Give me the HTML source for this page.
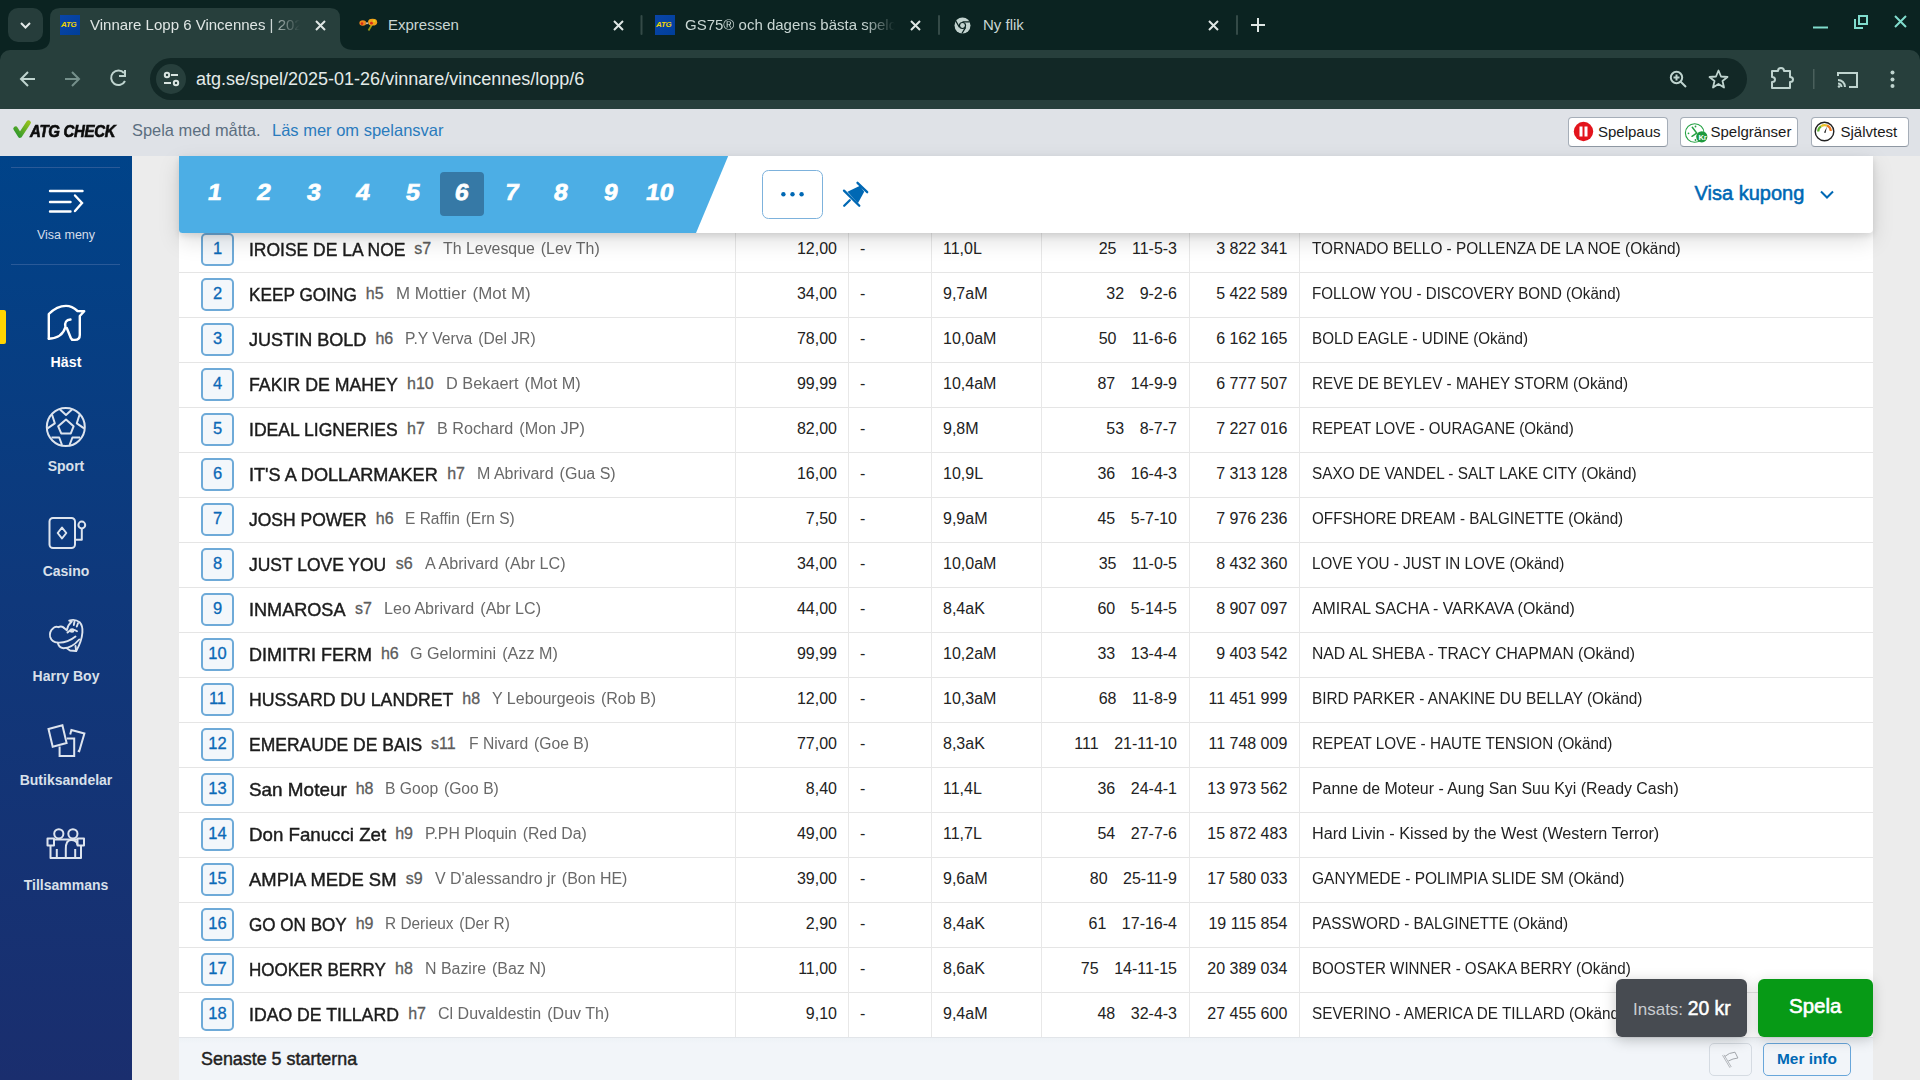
<!DOCTYPE html>
<html><head><meta charset="utf-8">
<style>
*{box-sizing:border-box;margin:0;padding:0}
html,body{width:1920px;height:1080px;overflow:hidden;background:#ececec;font-family:"Liberation Sans",sans-serif}
.a{position:absolute}
#tabstrip{left:0;top:0;width:1920px;height:60px;background:#0b2321}
#toolbar{left:0;top:50px;width:1920px;height:59px;background:#273f3c;border-radius:10px 10px 0 0}
#check{left:0;top:109px;width:1920px;height:47px;background:#dfe2e7}
#sidebar{left:0;top:156px;width:132px;height:924px;background:linear-gradient(#004389 0%,#0f387b 48%,#1a2e6e 100%)}
#panel{left:179px;top:156px;width:1694px;height:924px;background:#fff}
.tabt{font-size:15px;color:#dfe6e4;white-space:nowrap;top:16px}
.btn{top:8px;height:30px;background:#fff;border:1.5px solid #a6aeb8;border-bottom-color:#8f98a3;border-radius:4px;font-size:15px;color:#1a1a1a;white-space:nowrap}
.sl{left:0;width:132px;text-align:center;line-height:1;font-size:14px;font-weight:bold;color:#d9e0ea;white-space:nowrap;margin-top:-156px}
.nb{left:201px;width:33px;height:33px;border:2px solid #6eaad8;border-radius:5px;background:#f3f7fb;color:#0b69b7;font-size:16.5px;-webkit-text-stroke:0.3px #0b69b7;text-align:center;line-height:27px}
.nm{left:248.9px;font-size:19px;line-height:1;color:#1c1c1c;-webkit-text-stroke:0.45px #1c1c1c;white-space:nowrap;transform-origin:0 0}
.sa{font-size:16px;line-height:1;color:#5c5c5c;-webkit-text-stroke:0.3px #5c5c5c;white-space:nowrap}
.dr{font-size:16px;line-height:1;color:#696969;white-space:nowrap}
.tr,.tx{font-size:16px;line-height:1;color:#222;white-space:nowrap}
.rn{top:180.9px;width:40px;margin-left:-20px;text-align:center;font:bold 23px "Liberation Sans";color:#fff;line-height:1;-webkit-text-stroke:0.7px #fff;transform:skewX(-9deg) scaleX(1.08)}
.ico{stroke:#bdd1cc;fill:none}
</style></head><body>
<!-- browser chrome -->

<div id="tabstrip" class="a">
  <div class="a" style="left:8px;top:8px;width:35px;height:34px;border-radius:10px;background:#263d3b"></div>
  <svg class="a" style="left:18px;top:18px" width="15" height="14" viewBox="0 0 15 14"><path d="M3 5 L7.5 9.5 L12 5" stroke="#e3eae8" stroke-width="2" fill="none"/></svg>
  <svg class="a" style="left:0;top:0" width="1920" height="50"><path d="M36 50 Q50 50 50 38 L50 18 Q50 8 60 8 L330 8 Q340 8 340 18 L340 38 Q340 50 354 50 Z" fill="#273f3c"/>
  <rect x="640.5" y="15" width="2" height="20" rx="1" fill="#344a47"/><rect x="938" y="15" width="2" height="20" rx="1" fill="#344a47"/><rect x="1236" y="15" width="2" height="20" rx="1" fill="#344a47"/>
  <g stroke="#dfe6e4" stroke-width="2" fill="none"><path d="M316 21 L325 30 M325 21 L316 30"/><path d="M614 21 L623 30 M623 21 L614 30"/><path d="M911 21 L920 30 M920 21 L911 30"/><path d="M1209 21 L1218 30 M1218 21 L1209 30"/><path d="M1251 25 L1265 25 M1258 18 L1258 32"/></g>
  <g stroke="#80dccd" stroke-width="2" fill="none"><path d="M1813 27.5 L1828 27.5"/><path d="M1855 19 L1855 28 L1863 28"/><rect x="1859" y="16" width="8" height="8"/><path d="M1895 16 L1906 27 M1906 16 L1895 27"/></g>
  </svg>
  <div class="a" style="left:60px;top:15px;width:20px;height:20px;background:linear-gradient(135deg,#0a45a8,#003f9a)"><span class="a" style="left:1px;top:5px;font:italic bold 8px 'Liberation Sans';color:#f2d600;letter-spacing:-0.3px">ATG</span></div>
  <div class="a tabt" style="left:90px;width:210px;overflow:hidden;-webkit-mask-image:linear-gradient(90deg,#000 85%,transparent)">Vinnare Lopp 6 Vincennes | 2025</div>
  <svg class="a" style="left:355px;top:15px" width="25" height="20" viewBox="0 0 25 20"><path d="M17 9.5 L13.5 15.5" stroke="#9a9a12" stroke-width="1.8"/><ellipse cx="7.8" cy="8" rx="3.4" ry="2.8" fill="#f08a1c"/><circle cx="7" cy="8.6" r="1.3" fill="#d82a18"/><ellipse cx="17.6" cy="7.2" rx="4.6" ry="3.4" fill="#f0a21a"/><circle cx="16.4" cy="8.2" r="1.4" fill="#d82a18"/><circle cx="19.2" cy="6" r="1.2" fill="#e8d21a"/><path d="M10.5 8.5 L13.5 8" stroke="#8f7a60" stroke-width="1.8"/><circle cx="12" cy="8.3" r="0.8" fill="#e8e8e0"/></svg>
  <div class="a tabt" style="left:388px;color:#c9d6d3">Expressen</div>
  <div class="a" style="left:655px;top:15px;width:20px;height:20px;background:linear-gradient(135deg,#0a45a8,#003f9a)"><span class="a" style="left:1px;top:5px;font:italic bold 8px 'Liberation Sans';color:#f2d600;letter-spacing:-0.3px">ATG</span></div>
  <div class="a tabt" style="left:685px;width:210px;overflow:hidden;color:#c9d6d3;-webkit-mask-image:linear-gradient(90deg,#000 85%,transparent)">GS75® och dagens bästa speldrag</div>
  <svg class="a" style="left:954px;top:17px" width="17" height="17" viewBox="0 0 17 17"><circle cx="8.5" cy="8.5" r="8" fill="#c2d3cf"/><circle cx="8.5" cy="8.5" r="3.6" fill="#0b2321"/><circle cx="8.5" cy="8.5" r="2.4" fill="#c2d3cf"/><path d="M8.5 4.9 L15.8 4.9 M5.4 10.3 L1.8 4 M11.6 10.3 L7.9 16.5" stroke="#0b2321" stroke-width="1.3"/></svg>
  <div class="a tabt" style="left:983px;color:#c9d6d3">Ny flik</div>
</div>
<div id="toolbar" class="a">
  <svg class="a" style="left:0;top:0" width="1920" height="59">
   <g stroke="#bfd4cf" stroke-width="2" fill="none">
    <path d="M21 29 L35 29 M28 22 L21 29 L28 36"/>
   </g>
   <g stroke="#75908b" stroke-width="2" fill="none"><path d="M65 29 L79 29 M72 22 L79 29 L72 36"/></g>
   <g stroke="#bfd4cf" stroke-width="2" fill="none"><path d="M124 23 A7.3 7.3 0 1 0 125 31"/><path d="M125 20 L125 26 L119 26" /></g>
   <rect x="150" y="8" width="1597" height="42" rx="21" fill="#122826"/>
   <circle cx="171" cy="29" r="15" fill="#273f3c"/>
   <g stroke="#d9e4e1" stroke-width="2" fill="none"><circle cx="167" cy="25" r="2.2"/><path d="M171 25 L178 25 M164 33 L171 33"/><circle cx="176" cy="33" r="2.2"/></g>
   <g stroke="#bfd4cf" stroke-width="2" fill="none"><circle cx="1676.5" cy="27.5" r="5.7"/><path d="M1680.5 31.5 L1686 37 M1676.5 24.5 L1676.5 30.5 M1673.5 27.5 L1679.5 27.5"/></g>
   <path d="M1718.5 20.5 L1721 26.5 L1727.5 27 L1722.5 31 L1724 37.5 L1718.5 34 L1713 37.5 L1714.5 31 L1709.5 27 L1716 26.5 Z" stroke="#bfd4cf" stroke-width="1.8" fill="none" stroke-linejoin="round"/>
   <path d="M1772 21 L1778 21 Q1778 18 1781 18 Q1784 18 1784 21 L1790 21 L1790 27 Q1793 27 1793 29.5 Q1793 32 1790 32 L1790 38 L1772 38 L1772 32 Q1775 32 1775 29.5 Q1775 27 1772 27 Z" stroke="#bfd4cf" stroke-width="2" fill="none" stroke-linejoin="round"/>
   <rect x="1813" y="19" width="1.5" height="20" fill="#4a605c"/>
   <g stroke="#bfd4cf" stroke-width="2" fill="none"><path d="M1838 26 L1838 23 L1857 23 L1857 37 L1849 37"/><path d="M1838 30 A7 7 0 0 1 1845 37 M1838 33.5 A3.5 3.5 0 0 1 1841.5 37"/></g>
   <circle cx="1839" cy="36.5" r="1.3" fill="#bfd4cf"/>
   <g fill="#bfd4cf"><circle cx="1892.5" cy="22.5" r="2"/><circle cx="1892.5" cy="29.5" r="2"/><circle cx="1892.5" cy="36" r="2"/></g>
  </svg>
  <div class="a" style="left:196px;top:19px;font-size:18px;color:#e4ebe9;white-space:nowrap">atg.se/spel/2025-01-26/vinnare/vincennes/lopp/6</div>
</div>
<div id="check" class="a">
  <svg class="a" style="left:12px;top:10px" width="20" height="20" viewBox="0 0 20 20"><defs><linearGradient id="gck" x1="0" y1="1" x2="1" y2="0"><stop offset="0" stop-color="#2a962e"/><stop offset="1" stop-color="#93c01c"/></linearGradient></defs><path d="M3.6 9.6 L8 16.6 L16.6 3.6" stroke="url(#gck)" stroke-width="4.6" stroke-linecap="round" stroke-linejoin="round" fill="none"/></svg>
  <div class="a" style="left:30px;top:13px;font:italic bold 15px 'Liberation Sans';color:#0c0c0c;letter-spacing:-0.3px;white-space:nowrap;transform:scaleY(1.12);transform-origin:0 50%;-webkit-text-stroke:0.6px #0c0c0c">ATG CHECK</div>
  <div class="a" style="left:132px;top:12px;font-size:16.4px;color:#5b6e80;white-space:nowrap">Spela med måtta.</div>
  <div class="a" style="left:272px;top:12px;font-size:16.5px;color:#2a7bbd;white-space:nowrap">Läs mer om spelansvar</div>
  <div class="a btn" style="left:1568px;width:99.5px"><svg class="a" style="left:3.5px;top:3px" width="21" height="21"><circle cx="10.5" cy="10.5" r="9.7" fill="#e3141c"/><rect x="6.5" y="5.5" width="3" height="10" fill="#fff"/><rect x="11.5" y="5.5" width="3" height="10" fill="#fff"/></svg><span class="a" style="left:29px;top:5px">Spelpaus</span></div>
  <div class="a btn" style="left:1679.5px;width:118.5px"><svg class="a" style="left:1.5px;top:1.5px" width="26" height="26" viewBox="1681 119 26 26"><circle cx="1693.7" cy="132" r="9.3" stroke="#25a244" stroke-width="1.1" fill="none"/><g fill="#25a244"><circle cx="1694.5" cy="125.5" r="0.9"/><circle cx="1687.5" cy="132.3" r="0.9"/><circle cx="1694.5" cy="139" r="0.9"/></g><path d="M1691.3 126.3 L1695.7 132.1 L1691 135.3" stroke="#25a244" stroke-width="1.5" fill="none" stroke-linecap="round"/><circle cx="1700.8" cy="135.8" r="5.6" fill="#1e9a3e"/><text x="1697.4" y="139.2" font-size="7.5" font-weight="bold" fill="#fff" font-family="Liberation Sans">Kr</text></svg><span class="a" style="left:30px;top:5px">Spelgränser</span></div>
  <div class="a btn" style="left:1810.5px;width:98px"><svg class="a" style="left:2.5px;top:3px" width="21" height="21"><circle cx="10.5" cy="10.5" r="9.3" stroke="#222" stroke-width="1.4" fill="#fff"/><path d="M4.2 10.5 A6.3 6.3 0 0 1 7 5.3" stroke="#5cb030" stroke-width="2.2" fill="none"/><path d="M7 5.3 A6.3 6.3 0 0 1 13 4.6" stroke="#e7c32a" stroke-width="2.2" fill="none"/><path d="M13 4.6 A6.3 6.3 0 0 1 16.8 10" stroke="#ee7a22" stroke-width="2.2" fill="none"/><path d="M10 11.5 L13 5.5 L11.5 12 Z" fill="#222"/></svg><span class="a" style="left:29px;top:5px">Självtest</span></div>
</div>
<div id="sidebar" class="a">
 <svg class="a" style="left:0;top:0" width="132" height="924" viewBox="0 156 132 924">
  <rect x="11" y="167" width="109" height="1" fill="#2a5a98"/>
  <rect x="11" y="264" width="109" height="1" fill="#2a5a98"/>
  <g stroke="#fff" stroke-width="2.4" stroke-linecap="round" fill="none">
   <path d="M50 191 L82.5 191 M50 202 L70.5 202 M50 211.5 L70.5 211.5 M75 195.5 L82 203 L75 211"/>
  </g>
  <rect x="0" y="310" width="6" height="34" rx="2" fill="#ffd400"/>
  <rect x="-3" y="310" width="5" height="34" fill="#ffd400"/>
  <g transform="translate(40 298)" stroke="#fff" stroke-width="2.4" fill="none" stroke-linejoin="round" stroke-linecap="round">
   <path d="M8.8 40.7 L8.8 16 Q17 7.9 26 7.9 Q32 7.9 37.5 13 L44.2 13.2 L39.8 18 L39.8 37 Q39.8 41.9 35 41.9 L33.5 41.9 Q31.5 41.9 30.8 40 L26.8 30"/>
   <path d="M8.8 40.7 Q22.5 40 25.4 29 Q24 22 30.5 21.5"/>
  </g>
  <g stroke="#dde4ee" stroke-width="2" fill="none" stroke-linejoin="round">
   <circle cx="65.8" cy="427" r="19"/>
   <path d="M66 419.6 L73.6 426.3 L70.8 433.4 L61.2 433.4 L58.2 426.3 Z"/>
   <path d="M60 409.5 L66 415 L72 409.5"/>
   <path d="M52 414.5 L54.8 423.3 L47.5 428.3"/>
   <path d="M79.6 414.5 L76.8 423.3 L84.1 428.3"/>
   <path d="M51.5 437.5 L59.2 437.5 L62 445"/>
   <path d="M80.1 437.5 L72.4 437.5 L69.6 445"/>
  </g>
  <g stroke="#dde4ee" stroke-width="2" fill="none" stroke-linejoin="round">
   <rect x="49.5" y="518" width="25.5" height="30" rx="3.5"/>
   <path d="M62 527.5 L66.3 533 L62 538.5 L57.7 533 Z"/>
   <circle cx="81.8" cy="525" r="3.4"/>
   <path d="M81.8 528.4 L81.8 539.7 L75 539.7"/>
  </g>
  <g stroke="#dde4ee" stroke-width="1.9" fill="none" stroke-linejoin="round" stroke-linecap="round">
   <path d="M63.5 627.5 Q61 625.8 58.5 627.2 Q55.5 625.8 53.2 628.2 Q49 631.5 50.2 637 Q51.8 642.2 57.8 642.6 Q67 643.2 75.5 636.5"/>
   <path d="M63.5 627.5 L66.8 630.2 Q68.2 624.5 71.8 621.6 L69.2 620.6 Q75 618.6 79.6 622.2 Q83 626 82.4 632.5 Q81.8 641 76.2 651"/>
   <path d="M57.8 642.6 Q58.5 647.5 63.5 648.2 Q72 648 79.2 639.5"/>
   <path d="M66.5 648 L70 650.5 L76.2 651 L75.5 646"/>
   <path d="M67.5 632.5 Q72 627.8 77 631.2"/>
   <ellipse cx="72" cy="630.4" rx="1.6" ry="1.3"/>
   <path d="M74.5 621.5 L73.8 625 M78 623.2 L76.8 626.5"/>
  </g>
  <g stroke="#dde4ee" stroke-width="2" fill="none" stroke-linejoin="miter">
   <path d="M48.5 729 L62.4 725.3 L66.6 743 L52.7 746.7 Z"/>
   <path d="M70.2 734.5 L71.4 730 L84.4 733.5 L79.2 751.2 L77.8 750.8"/>
   <path d="M66.8 738.5 L74.2 738.5 L74.2 756 L59.6 756 L59.6 746.5"/>
  </g>
  <g stroke="#dde4ee" stroke-width="2" fill="none" stroke-linejoin="round">
   <circle cx="58.8" cy="833.8" r="4.6"/>
   <circle cx="72.9" cy="833.8" r="4.6"/>
   <path d="M54.5 839.5 L77.5 839.5"/>
   <rect x="47.5" y="838.5" width="6.5" height="7" />
   <rect x="77.5" y="838.5" width="6.5" height="7" />
   <path d="M50.5 845.5 L50.5 858 L81 858 L81 845.5"/>
   <path d="M56.8 849 L56.8 858 M75.2 849 L75.2 858"/>
   <path d="M65.8 858 L65.8 849 Q65.8 840 71 840 Q77 840 77.5 845"/>
  </g>
 </svg>
 <div class="a sl" style="top:229px;font-size:12.5px;font-weight:normal;color:#d6deea">Visa meny</div>
 <div class="a sl" style="top:355px;font-size:14.2px;color:#fff">Häst</div>
 <div class="a sl" style="top:459px">Sport</div>
 <div class="a sl" style="top:564px">Casino</div>
 <div class="a sl" style="top:669px">Harry Boy</div>
 <div class="a sl" style="top:773px">Butiksandelar</div>
 <div class="a sl" style="top:878px">Tillsammans</div>
</div>
<div id="panel" class="a"></div>
<svg class="a" style="left:179px;top:156px" width="1694" height="924" viewBox="179 156 1694 924">
<rect x="179" y="272" width="1694" height="1" fill="#e5e5e5"/>
<rect x="179" y="317" width="1694" height="1" fill="#e5e5e5"/>
<rect x="179" y="362" width="1694" height="1" fill="#e5e5e5"/>
<rect x="179" y="407" width="1694" height="1" fill="#e5e5e5"/>
<rect x="179" y="452" width="1694" height="1" fill="#e5e5e5"/>
<rect x="179" y="497" width="1694" height="1" fill="#e5e5e5"/>
<rect x="179" y="542" width="1694" height="1" fill="#e5e5e5"/>
<rect x="179" y="587" width="1694" height="1" fill="#e5e5e5"/>
<rect x="179" y="632" width="1694" height="1" fill="#e5e5e5"/>
<rect x="179" y="677" width="1694" height="1" fill="#e5e5e5"/>
<rect x="179" y="722" width="1694" height="1" fill="#e5e5e5"/>
<rect x="179" y="767" width="1694" height="1" fill="#e5e5e5"/>
<rect x="179" y="812" width="1694" height="1" fill="#e5e5e5"/>
<rect x="179" y="857" width="1694" height="1" fill="#e5e5e5"/>
<rect x="179" y="902" width="1694" height="1" fill="#e5e5e5"/>
<rect x="179" y="947" width="1694" height="1" fill="#e5e5e5"/>
<rect x="179" y="992" width="1694" height="1" fill="#e5e5e5"/>
<rect x="179" y="1037" width="1694" height="1" fill="#e5e5e5"/>
<rect x="735" y="227" width="1" height="810" fill="#e8e8e8"/>
<rect x="848" y="227" width="1" height="810" fill="#e8e8e8"/>
<rect x="931" y="227" width="1" height="810" fill="#e8e8e8"/>
<rect x="1041" y="227" width="1" height="810" fill="#e8e8e8"/>
<rect x="1189" y="227" width="1" height="810" fill="#e8e8e8"/>
<rect x="1299" y="227" width="1" height="810" fill="#e8e8e8"/>
</svg>
<div class="a nb" style="top:233px">1</div>
<div class="a nm" style="top:239.9px;transform:scaleX(0.9200)">IROISE DE LA NOE</div>
<div class="a sa" style="top:240.5px;left:414.2px">s7</div>
<div class="a dr" style="top:240.5px;left:443.2px;transform:scaleX(0.9930);transform-origin:0 0">Th Levesque<span style="margin-left:6px">(Lev Th)</span></div>
<div class="a tr" style="top:240.8px;right:1083px">12,00</div>
<div class="a tx" style="top:240.8px;left:860px">-</div>
<div class="a tx" style="top:240.8px;left:943px">11,0L</div>
<div class="a tr" style="top:240.8px;right:743px">25<span style="margin-left:15.5px">11-5-3</span></div>
<div class="a tr" style="top:240.8px;right:632.7px">3 822 341</div>
<div class="a tx" style="top:240.8px;left:1312px;transform:scaleX(0.9603);transform-origin:0 0">TORNADO BELLO - POLLENZA DE LA NOE (Okänd)</div>
<div class="a nb" style="top:278px">2</div>
<div class="a nm" style="top:284.9px;transform:scaleX(0.9061)">KEEP GOING</div>
<div class="a sa" style="top:285.5px;left:365.8px">h5</div>
<div class="a dr" style="top:285.5px;left:395.7px;transform:scaleX(1.0542);transform-origin:0 0">M Mottier<span style="margin-left:6px">(Mot M)</span></div>
<div class="a tr" style="top:285.8px;right:1083px">34,00</div>
<div class="a tx" style="top:285.8px;left:860px">-</div>
<div class="a tx" style="top:285.8px;left:943px">9,7aM</div>
<div class="a tr" style="top:285.8px;right:743px">32<span style="margin-left:15.5px">9-2-6</span></div>
<div class="a tr" style="top:285.8px;right:632.7px">5 422 589</div>
<div class="a tx" style="top:285.8px;left:1312px;transform:scaleX(0.9432);transform-origin:0 0">FOLLOW YOU - DISCOVERY BOND (Okänd)</div>
<div class="a nb" style="top:323px">3</div>
<div class="a nm" style="top:329.9px;transform:scaleX(0.9504)">JUSTIN BOLD</div>
<div class="a sa" style="top:330.5px;left:375.4px">h6</div>
<div class="a dr" style="top:330.5px;left:404.8px;transform:scaleX(0.9785);transform-origin:0 0">P.Y Verva<span style="margin-left:6px">(Del JR)</span></div>
<div class="a tr" style="top:330.8px;right:1083px">78,00</div>
<div class="a tx" style="top:330.8px;left:860px">-</div>
<div class="a tx" style="top:330.8px;left:943px">10,0aM</div>
<div class="a tr" style="top:330.8px;right:743px">50<span style="margin-left:15.5px">11-6-6</span></div>
<div class="a tr" style="top:330.8px;right:632.7px">6 162 165</div>
<div class="a tx" style="top:330.8px;left:1312px;transform:scaleX(0.9490);transform-origin:0 0">BOLD EAGLE - UDINE (Okänd)</div>
<div class="a nb" style="top:368px">4</div>
<div class="a nm" style="top:374.9px;transform:scaleX(0.9328)">FAKIR DE MAHEY</div>
<div class="a sa" style="top:375.5px;left:407.0px">h10</div>
<div class="a dr" style="top:375.5px;left:446.0px;transform:scaleX(1.0185);transform-origin:0 0">D Bekaert<span style="margin-left:6px">(Mot M)</span></div>
<div class="a tr" style="top:375.8px;right:1083px">99,99</div>
<div class="a tx" style="top:375.8px;left:860px">-</div>
<div class="a tx" style="top:375.8px;left:943px">10,4aM</div>
<div class="a tr" style="top:375.8px;right:743px">87<span style="margin-left:15.5px">14-9-9</span></div>
<div class="a tr" style="top:375.8px;right:632.7px">6 777 507</div>
<div class="a tx" style="top:375.8px;left:1312px;transform:scaleX(0.9520);transform-origin:0 0">REVE DE BEYLEV - MAHEY STORM (Okänd)</div>
<div class="a nb" style="top:413px">5</div>
<div class="a nm" style="top:419.9px;transform:scaleX(0.9244)">IDEAL LIGNERIES</div>
<div class="a sa" style="top:420.5px;left:407.0px">h7</div>
<div class="a dr" style="top:420.5px;left:436.5px;transform:scaleX(1.0089);transform-origin:0 0">B Rochard<span style="margin-left:6px">(Mon JP)</span></div>
<div class="a tr" style="top:420.8px;right:1083px">82,00</div>
<div class="a tx" style="top:420.8px;left:860px">-</div>
<div class="a tx" style="top:420.8px;left:943px">9,8M</div>
<div class="a tr" style="top:420.8px;right:743px">53<span style="margin-left:15.5px">8-7-7</span></div>
<div class="a tr" style="top:420.8px;right:632.7px">7 227 016</div>
<div class="a tx" style="top:420.8px;left:1312px;transform:scaleX(0.9426);transform-origin:0 0">REPEAT LOVE - OURAGANE (Okänd)</div>
<div class="a nb" style="top:458px">6</div>
<div class="a nm" style="top:464.9px;transform:scaleX(0.9539)">IT'S A DOLLARMAKER</div>
<div class="a sa" style="top:465.5px;left:447.2px">h7</div>
<div class="a dr" style="top:465.5px;left:476.7px;transform:scaleX(1.0015);transform-origin:0 0">M Abrivard<span style="margin-left:6px">(Gua S)</span></div>
<div class="a tr" style="top:465.8px;right:1083px">16,00</div>
<div class="a tx" style="top:465.8px;left:860px">-</div>
<div class="a tx" style="top:465.8px;left:943px">10,9L</div>
<div class="a tr" style="top:465.8px;right:743px">36<span style="margin-left:15.5px">16-4-3</span></div>
<div class="a tr" style="top:465.8px;right:632.7px">7 313 128</div>
<div class="a tx" style="top:465.8px;left:1312px;transform:scaleX(0.9584);transform-origin:0 0">SAXO DE VANDEL - SALT LAKE CITY (Okänd)</div>
<div class="a nb" style="top:503px">7</div>
<div class="a nm" style="top:509.9px;transform:scaleX(0.9207)">JOSH POWER</div>
<div class="a sa" style="top:510.5px;left:375.8px">h6</div>
<div class="a dr" style="top:510.5px;left:405.3px;transform:scaleX(0.9683);transform-origin:0 0">E Raffin<span style="margin-left:6px">(Ern S)</span></div>
<div class="a tr" style="top:510.8px;right:1083px">7,50</div>
<div class="a tx" style="top:510.8px;left:860px">-</div>
<div class="a tx" style="top:510.8px;left:943px">9,9aM</div>
<div class="a tr" style="top:510.8px;right:743px">45<span style="margin-left:15.5px">5-7-10</span></div>
<div class="a tr" style="top:510.8px;right:632.7px">7 976 236</div>
<div class="a tx" style="top:510.8px;left:1312px;transform:scaleX(0.9512);transform-origin:0 0">OFFSHORE DREAM - BALGINETTE (Okänd)</div>
<div class="a nb" style="top:548px">8</div>
<div class="a nm" style="top:554.9px;transform:scaleX(0.9193)">JUST LOVE YOU</div>
<div class="a sa" style="top:555.5px;left:395.7px">s6</div>
<div class="a dr" style="top:555.5px;left:424.5px;transform:scaleX(1.0087);transform-origin:0 0">A Abrivard<span style="margin-left:6px">(Abr LC)</span></div>
<div class="a tr" style="top:555.8px;right:1083px">34,00</div>
<div class="a tx" style="top:555.8px;left:860px">-</div>
<div class="a tx" style="top:555.8px;left:943px">10,0aM</div>
<div class="a tr" style="top:555.8px;right:743px">35<span style="margin-left:15.5px">11-0-5</span></div>
<div class="a tr" style="top:555.8px;right:632.7px">8 432 360</div>
<div class="a tx" style="top:555.8px;left:1312px;transform:scaleX(0.9515);transform-origin:0 0">LOVE YOU - JUST IN LOVE (Okänd)</div>
<div class="a nb" style="top:593px">9</div>
<div class="a nm" style="top:599.9px;transform:scaleX(0.9521)">INMAROSA</div>
<div class="a sa" style="top:600.5px;left:355.0px">s7</div>
<div class="a dr" style="top:600.5px;left:383.7px;transform:scaleX(1.0045);transform-origin:0 0">Leo Abrivard<span style="margin-left:6px">(Abr LC)</span></div>
<div class="a tr" style="top:600.8px;right:1083px">44,00</div>
<div class="a tx" style="top:600.8px;left:860px">-</div>
<div class="a tx" style="top:600.8px;left:943px">8,4aK</div>
<div class="a tr" style="top:600.8px;right:743px">60<span style="margin-left:15.5px">5-14-5</span></div>
<div class="a tr" style="top:600.8px;right:632.7px">8 907 097</div>
<div class="a tx" style="top:600.8px;left:1312px;transform:scaleX(0.9911);transform-origin:0 0">AMIRAL SACHA - VARKAVA (Okänd)</div>
<div class="a nb" style="top:638px">10</div>
<div class="a nm" style="top:644.9px;transform:scaleX(0.9466)">DIMITRI FERM</div>
<div class="a sa" style="top:645.5px;left:380.9px">h6</div>
<div class="a dr" style="top:645.5px;left:410.1px;transform:scaleX(1.0091);transform-origin:0 0">G Gelormini<span style="margin-left:6px">(Azz M)</span></div>
<div class="a tr" style="top:645.8px;right:1083px">99,99</div>
<div class="a tx" style="top:645.8px;left:860px">-</div>
<div class="a tx" style="top:645.8px;left:943px">10,2aM</div>
<div class="a tr" style="top:645.8px;right:743px">33<span style="margin-left:15.5px">13-4-4</span></div>
<div class="a tr" style="top:645.8px;right:632.7px">9 403 542</div>
<div class="a tx" style="top:645.8px;left:1312px;transform:scaleX(0.9824);transform-origin:0 0">NAD AL SHEBA - TRACY CHAPMAN (Okänd)</div>
<div class="a nb" style="top:683px">11</div>
<div class="a nm" style="top:689.9px;transform:scaleX(0.9304)">HUSSARD DU LANDRET</div>
<div class="a sa" style="top:690.5px;left:462.3px">h8</div>
<div class="a dr" style="top:690.5px;left:492.0px;transform:scaleX(1.0004);transform-origin:0 0">Y Lebourgeois<span style="margin-left:6px">(Rob B)</span></div>
<div class="a tr" style="top:690.8px;right:1083px">12,00</div>
<div class="a tx" style="top:690.8px;left:860px">-</div>
<div class="a tx" style="top:690.8px;left:943px">10,3aM</div>
<div class="a tr" style="top:690.8px;right:743px">68<span style="margin-left:15.5px">11-8-9</span></div>
<div class="a tr" style="top:690.8px;right:632.7px">11 451 999</div>
<div class="a tx" style="top:690.8px;left:1312px;transform:scaleX(0.9602);transform-origin:0 0">BIRD PARKER - ANAKINE DU BELLAY (Okänd)</div>
<div class="a nb" style="top:728px">12</div>
<div class="a nm" style="top:734.9px;transform:scaleX(0.9216)">EMERAUDE DE BAIS</div>
<div class="a sa" style="top:735.5px;left:431.0px">s11</div>
<div class="a dr" style="top:735.5px;left:469.3px;transform:scaleX(0.9798);transform-origin:0 0">F Nivard<span style="margin-left:6px">(Goe B)</span></div>
<div class="a tr" style="top:735.8px;right:1083px">77,00</div>
<div class="a tx" style="top:735.8px;left:860px">-</div>
<div class="a tx" style="top:735.8px;left:943px">8,3aK</div>
<div class="a tr" style="top:735.8px;right:743px">111<span style="margin-left:15.5px">21-11-10</span></div>
<div class="a tr" style="top:735.8px;right:632.7px">11 748 009</div>
<div class="a tx" style="top:735.8px;left:1312px;transform:scaleX(0.9517);transform-origin:0 0">REPEAT LOVE - HAUTE TENSION (Okänd)</div>
<div class="a nb" style="top:773px">13</div>
<div class="a nm" style="top:779.9px;transform:scaleX(0.9946)">San Moteur</div>
<div class="a sa" style="top:780.5px;left:355.7px">h8</div>
<div class="a dr" style="top:780.5px;left:385.4px;transform:scaleX(0.9786);transform-origin:0 0">B Goop<span style="margin-left:6px">(Goo B)</span></div>
<div class="a tr" style="top:780.8px;right:1083px">8,40</div>
<div class="a tx" style="top:780.8px;left:860px">-</div>
<div class="a tx" style="top:780.8px;left:943px">11,4L</div>
<div class="a tr" style="top:780.8px;right:743px">36<span style="margin-left:15.5px">24-4-1</span></div>
<div class="a tr" style="top:780.8px;right:632.7px">13 973 562</div>
<div class="a tx" style="top:780.8px;left:1312px;transform:scaleX(0.9936);transform-origin:0 0">Panne de Moteur - Aung San Suu Kyi (Ready Cash)</div>
<div class="a nb" style="top:818px">14</div>
<div class="a nm" style="top:824.9px;transform:scaleX(0.9841)">Don Fanucci Zet</div>
<div class="a sa" style="top:825.5px;left:395.2px">h9</div>
<div class="a dr" style="top:825.5px;left:425.0px;transform:scaleX(0.9859);transform-origin:0 0">P.PH Ploquin<span style="margin-left:6px">(Red Da)</span></div>
<div class="a tr" style="top:825.8px;right:1083px">49,00</div>
<div class="a tx" style="top:825.8px;left:860px">-</div>
<div class="a tx" style="top:825.8px;left:943px">11,7L</div>
<div class="a tr" style="top:825.8px;right:743px">54<span style="margin-left:15.5px">27-7-6</span></div>
<div class="a tr" style="top:825.8px;right:632.7px">15 872 483</div>
<div class="a tx" style="top:825.8px;left:1312px;transform:scaleX(1.0116);transform-origin:0 0">Hard Livin - Kissed by the West (Western Terror)</div>
<div class="a nb" style="top:863px">15</div>
<div class="a nm" style="top:869.9px;transform:scaleX(0.9702)">AMPIA MEDE SM</div>
<div class="a sa" style="top:870.5px;left:405.8px">s9</div>
<div class="a dr" style="top:870.5px;left:434.5px;transform:scaleX(0.9962);transform-origin:0 0">V D'alessandro jr<span style="margin-left:6px">(Bon HE)</span></div>
<div class="a tr" style="top:870.8px;right:1083px">39,00</div>
<div class="a tx" style="top:870.8px;left:860px">-</div>
<div class="a tx" style="top:870.8px;left:943px">9,6aM</div>
<div class="a tr" style="top:870.8px;right:743px">80<span style="margin-left:15.5px">25-11-9</span></div>
<div class="a tr" style="top:870.8px;right:632.7px">17 580 033</div>
<div class="a tx" style="top:870.8px;left:1312px;transform:scaleX(0.9706);transform-origin:0 0">GANYMEDE - POLIMPIA SLIDE SM (Okänd)</div>
<div class="a nb" style="top:908px">16</div>
<div class="a nm" style="top:914.9px;transform:scaleX(0.8984)">GO ON BOY</div>
<div class="a sa" style="top:915.5px;left:355.7px">h9</div>
<div class="a dr" style="top:915.5px;left:385.4px;transform:scaleX(0.9631);transform-origin:0 0">R Derieux<span style="margin-left:6px">(Der R)</span></div>
<div class="a tr" style="top:915.8px;right:1083px">2,90</div>
<div class="a tx" style="top:915.8px;left:860px">-</div>
<div class="a tx" style="top:915.8px;left:943px">8,4aK</div>
<div class="a tr" style="top:915.8px;right:743px">61<span style="margin-left:15.5px">17-16-4</span></div>
<div class="a tr" style="top:915.8px;right:632.7px">19 115 854</div>
<div class="a tx" style="top:915.8px;left:1312px;transform:scaleX(0.9549);transform-origin:0 0">PASSWORD - BALGINETTE (Okänd)</div>
<div class="a nb" style="top:953px">17</div>
<div class="a nm" style="top:959.9px;transform:scaleX(0.8956)">HOOKER BERRY</div>
<div class="a sa" style="top:960.5px;left:395.0px">h8</div>
<div class="a dr" style="top:960.5px;left:424.5px;transform:scaleX(0.9951);transform-origin:0 0">N Bazire<span style="margin-left:6px">(Baz N)</span></div>
<div class="a tr" style="top:960.8px;right:1083px">11,00</div>
<div class="a tx" style="top:960.8px;left:860px">-</div>
<div class="a tx" style="top:960.8px;left:943px">8,6aK</div>
<div class="a tr" style="top:960.8px;right:743px">75<span style="margin-left:15.5px">14-11-15</span></div>
<div class="a tr" style="top:960.8px;right:632.7px">20 389 034</div>
<div class="a tx" style="top:960.8px;left:1312px;transform:scaleX(0.9449);transform-origin:0 0">BOOSTER WINNER - OSAKA BERRY (Okänd)</div>
<div class="a nb" style="top:998px">18</div>
<div class="a nm" style="top:1004.9px;transform:scaleX(0.9299)">IDAO DE TILLARD</div>
<div class="a sa" style="top:1005.5px;left:408.2px">h7</div>
<div class="a dr" style="top:1005.5px;left:437.7px;transform:scaleX(1.0012);transform-origin:0 0">Cl Duvaldestin<span style="margin-left:6px">(Duv Th)</span></div>
<div class="a tr" style="top:1005.8px;right:1083px">9,10</div>
<div class="a tx" style="top:1005.8px;left:860px">-</div>
<div class="a tx" style="top:1005.8px;left:943px">9,4aM</div>
<div class="a tr" style="top:1005.8px;right:743px">48<span style="margin-left:15.5px">32-4-3</span></div>
<div class="a tr" style="top:1005.8px;right:632.7px">27 455 600</div>
<div class="a tx" style="top:1005.8px;left:1312px;transform:scaleX(0.9550);transform-origin:0 0">SEVERINO - AMERICA DE TILLARD (Okänd)</div>
<div class="a" style="left:179px;top:156px;width:1694px;height:77px;background:#fff;border-radius:0 0 4px 4px;box-shadow:0 3px 6px rgba(0,0,0,.10),0 8px 22px rgba(0,0,0,.13)">
 <svg class="a" style="left:0;top:0" width="1694" height="77"><path d="M0 0 L549.2 0 L517 77 L3.5 77 Q0 77 0 73.5 Z" fill="#4caee5"/><rect x="261" y="16" width="44" height="44" rx="4" fill="#3679a6"/>
 <rect x="583.5" y="14.5" width="60" height="48" rx="6" fill="none" stroke="#7db2dc" stroke-width="1"/>
 <g fill="#0068b4"><circle cx="604.4" cy="38.3" r="2.2"/><circle cx="613.5" cy="38.3" r="2.2"/><circle cx="622.6" cy="38.3" r="2.2"/></g>
 <g transform="translate(-179 -156)">
  <path d="M847.5 191.7 L860 185.8 L864.2 191.7 L857.9 203.3 Z" fill="#0068b4"/>
  <path d="M857.5 182.8 L867.2 192.2 M844 190.6 L859.3 205.8 M844.2 205.8 L849.8 200.3" stroke="#0068b4" stroke-width="2.3" stroke-linecap="round"/>
  <path d="M1821 191.5 L1827 197.5 L1833 191.5" stroke="#0068b4" stroke-width="2" fill="none"/>
 </g>
 </svg>
</div>
<div class="a rn" style="left:214.5px">1</div><div class="a rn" style="left:264px">2</div><div class="a rn" style="left:313.7px">3</div><div class="a rn" style="left:363px">4</div><div class="a rn" style="left:412.5px">5</div><div class="a rn" style="left:462px">6</div><div class="a rn" style="left:512px">7</div><div class="a rn" style="left:561px">8</div><div class="a rn" style="left:610.5px">9</div><div class="a rn" style="left:660px">10</div>
<div class="a" style="left:1694.6px;top:183.1px;font-size:20px;line-height:1;color:#0068b4;white-space:nowrap;-webkit-text-stroke:0.55px #0068b4">Visa kupong</div>
<div class="a" style="left:179px;top:1037px;width:1694px;height:43px;background:linear-gradient(#eef2f6,#f2f5f9 6px);border-top:1px solid #e2e5e9"></div>
<div class="a" style="left:201px;top:1051px;font-size:17.9px;line-height:1;color:#222;white-space:nowrap;-webkit-text-stroke:0.45px #222">Senaste 5 starterna</div>
<div class="a" style="left:1709px;top:1043px;width:43px;height:33px;border:1px solid #d5dbe2;border-radius:5px"><svg class="a" style="left:0;top:0" width="41" height="31" viewBox="1710 1044 41 31"><path d="M1722.5 1055.2 L1730 1067.8 M1724 1054.8 L1731.3 1067" stroke="#a3a7ac" stroke-width="0.8" fill="none"/><path d="M1724.8 1056.5 Q1729 1052.6 1735 1052.2 L1737.9 1058 Q1733 1058.5 1728.3 1061" stroke="#a3a7ac" stroke-width="1" fill="none" stroke-linejoin="round"/></svg></div>
<div class="a" style="left:1763px;top:1043px;width:88px;height:33px;border:1px solid #68a6da;border-radius:5px"></div>
<div class="a" style="left:1777px;top:1051px;font-weight:bold;font-size:15.4px;line-height:1;color:#0068b4;white-space:nowrap">Mer info</div>
<div class="a" style="left:1616px;top:979px;width:131px;height:58px;border-radius:6px;background:#474b51;box-shadow:0 3px 14px rgba(0,0,0,.22)"></div>
<div class="a" style="left:1633px;top:999.4px;font-size:17px;line-height:1;color:#c9ccd0;white-space:nowrap">Insats: <span style="color:#fff;font-size:19.3px;-webkit-text-stroke:0.5px #fff">20 kr</span></div>
<div class="a" style="left:1758px;top:979px;width:115px;height:58px;border-radius:6px;background:#079a16;box-shadow:0 3px 14px rgba(0,0,0,.18)"></div>
<div class="a" style="left:1789px;top:996.1px;font-size:20.5px;line-height:1;color:#fff;white-space:nowrap;-webkit-text-stroke:0.6px #fff">Spela</div>

</body></html>
